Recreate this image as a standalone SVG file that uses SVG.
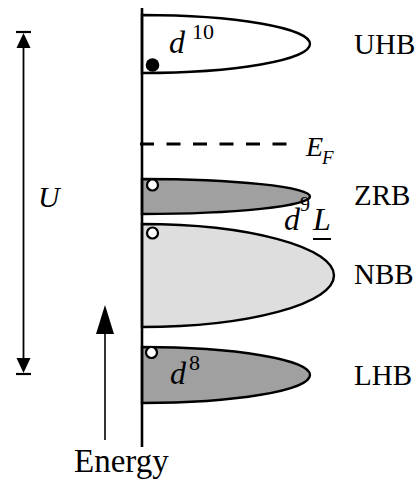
<svg xmlns="http://www.w3.org/2000/svg" width="418" height="483" viewBox="0 0 418 483">
<style>
.band{stroke:#000;stroke-width:2.4}
.dark{fill:#a0a0a0}
.light{fill:#dedede}
.white{fill:#fff}
.hole{fill:#fff;stroke:#000;stroke-width:2.2}
.t{font-family:"Liberation Serif","Times New Roman",serif;fill:#000}
.lbl{font-size:29px}
.it{font-style:italic}
.dd{font-size:32px;font-style:italic}
.sup{font-size:22px}
.ln{stroke:#000;fill:none}
</style>
<rect width="418" height="483" fill="#fff"/>
<g id="UHB">
<path class="band white" d="M142,15 A168,29 0 0 1 142,73 Z"/>
<circle cx="152.5" cy="65" r="6.8" fill="#000"/>
<text class="t dd" x="169" y="53">d</text>
<text class="t sup" x="192" y="39">10</text>
<text class="t lbl" x="354" y="54">UHB</text>
</g>
<g id="EF">
<line class="ln" x1="140" y1="144" x2="287" y2="144" stroke-width="2.8" stroke-dasharray="14 12.5"/>
<text class="t it" x="306" y="156" font-size="28">E</text>
<text class="t it" x="322" y="164" font-size="19">F</text>
</g>
<g id="ZRB">
<path class="band dark" d="M142,179 A168,17.5 0 0 1 142,214 Z"/>
<circle class="hole" cx="152.5" cy="185" r="5.5"/>
<text class="t lbl" x="354" y="205">ZRB</text>
</g>
<g id="NBB">
<path class="band light" d="M142,224 A192,51.5 0 0 1 142,327 Z"/>
<circle class="hole" cx="152.5" cy="233" r="5.5"/>
<text class="t dd" x="284" y="230">d</text>
<text class="t" x="300" y="211" font-size="20">9</text>
<text class="t dd" x="313" y="230">L</text>
<line class="ln" x1="313" y1="239" x2="331" y2="239" stroke-width="2"/>
<text class="t lbl" x="354" y="284">NBB</text>
</g>
<g id="LHB">
<path class="band dark" d="M142,347 A168,28 0 0 1 142,403 Z"/>
<circle class="hole" cx="151.5" cy="352.5" r="5.5"/>
<text class="t dd" x="170" y="384">d</text>
<text class="t sup" x="189" y="370">8</text>
<text class="t lbl" x="354" y="385">LHB</text>
</g>
<g id="U">
<line class="ln" x1="23.5" y1="40" x2="23.5" y2="366" stroke-width="1.8"/>
<line class="ln" x1="16" y1="32" x2="31" y2="32" stroke-width="2.2"/>
<line class="ln" x1="16" y1="374" x2="31" y2="374" stroke-width="2.2"/>
<polygon points="23.5,33 16.5,48 30.5,48" fill="#000"/>
<polygon points="23.5,373 16.5,358 30.5,358" fill="#000"/>
<text class="t it" x="38" y="207" font-size="30">U</text>
</g>
<g id="Energy">
<line class="ln" x1="105" y1="330" x2="105" y2="440" stroke-width="1.6"/>
<polygon points="105,305 96,334 114,334" fill="#000"/>
<text class="t" x="74" y="472" font-size="33">Energy</text>
</g>
<g id="axis">
<line class="ln" x1="142" y1="8" x2="142" y2="447" stroke-width="2.6"/>
</g>
</svg>
